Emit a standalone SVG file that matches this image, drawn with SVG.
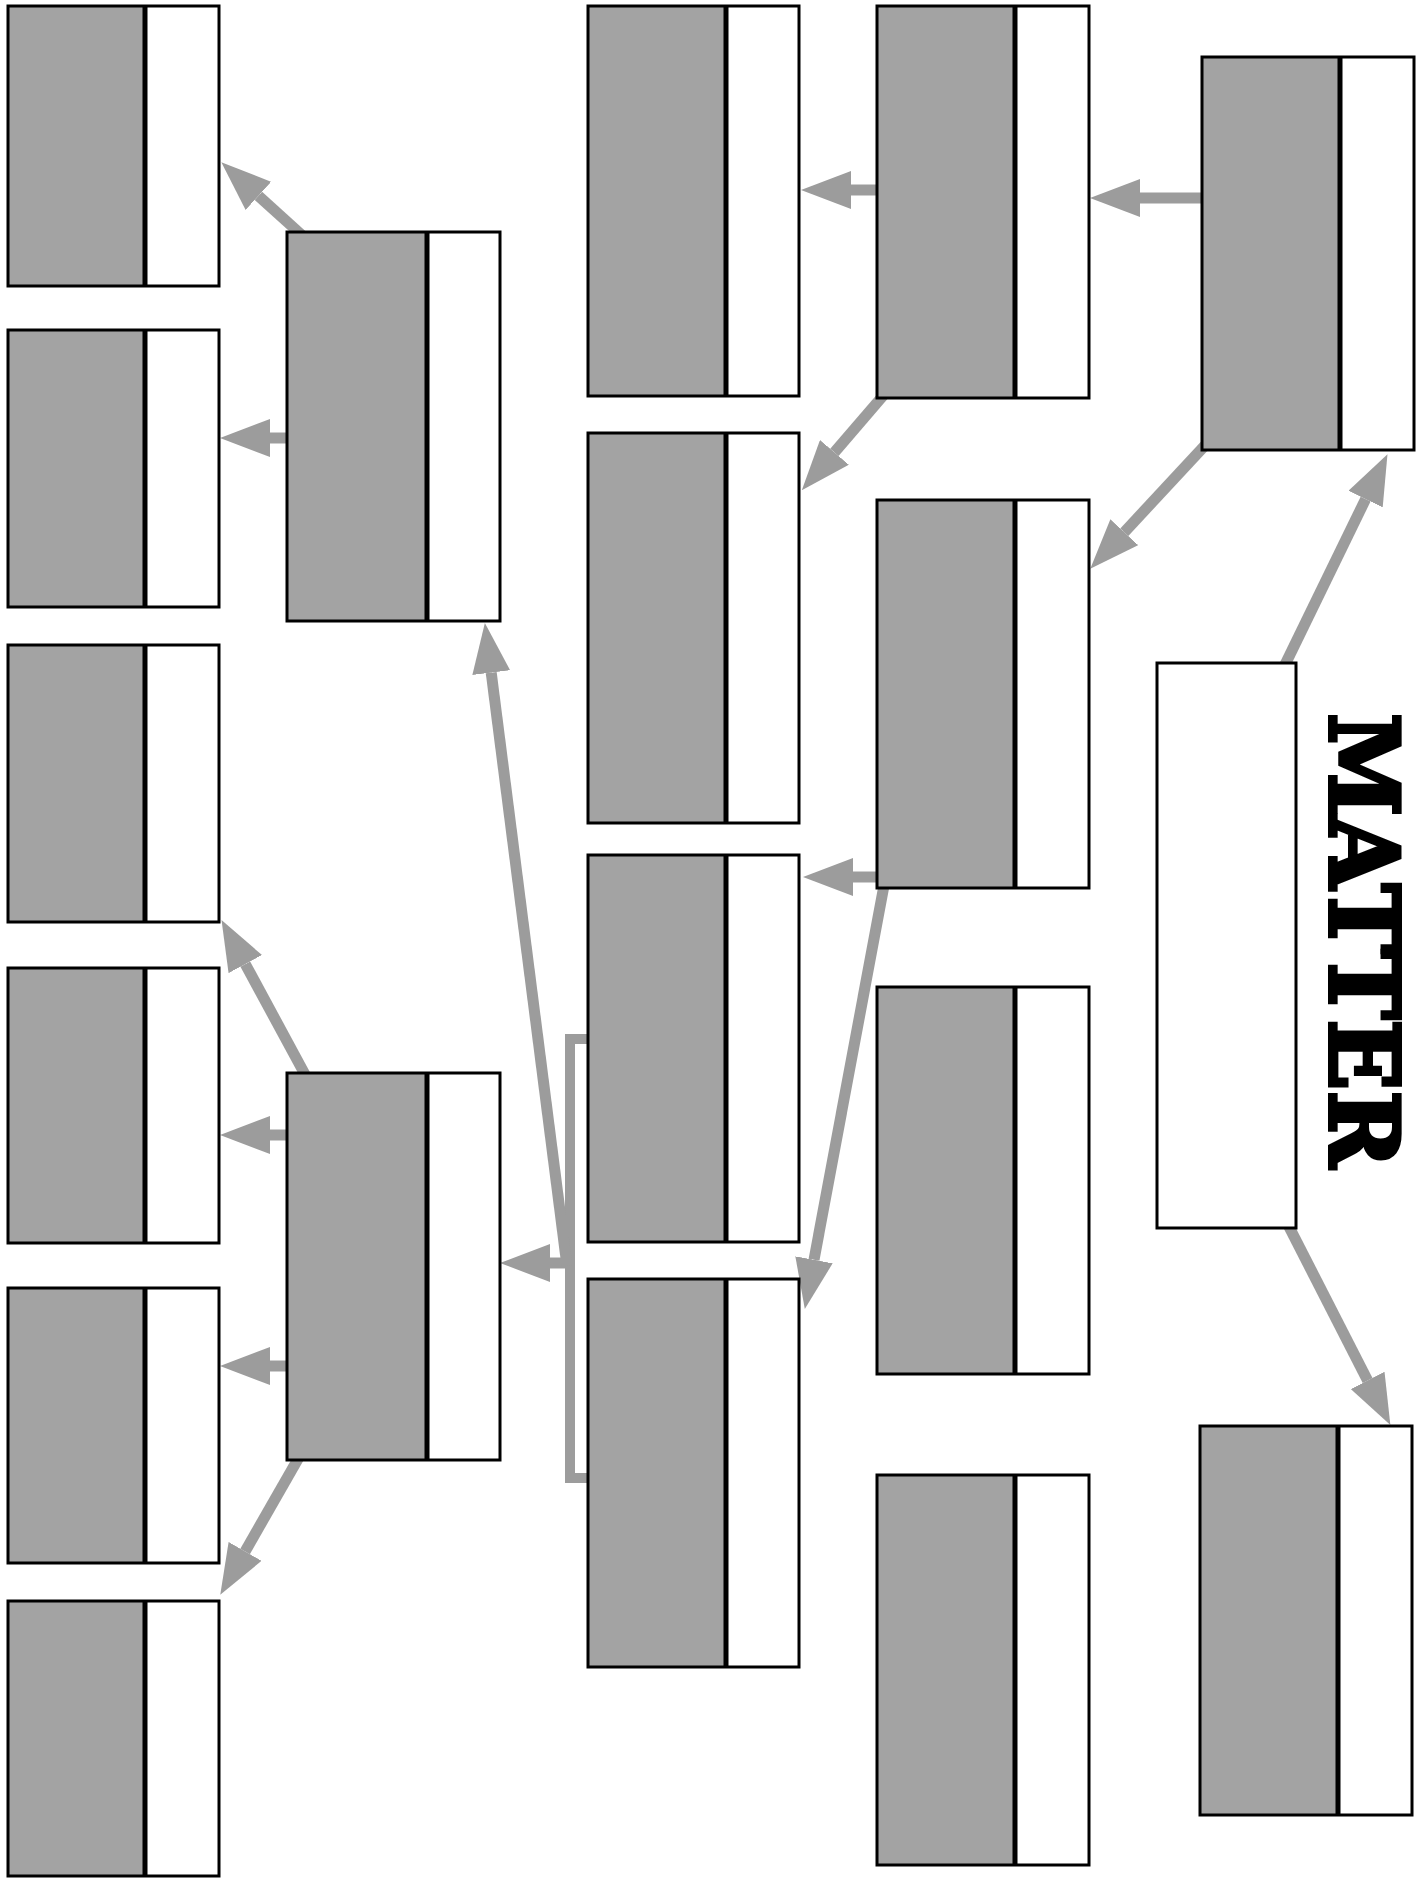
<svg xmlns="http://www.w3.org/2000/svg" width="1421" height="1881" viewBox="0 0 1421 1881">
<style>
.g{fill:#a3a3a3}
.w{fill:#ffffff}
.o{fill:none;stroke:#000;stroke-width:3}
.d{stroke:#000;stroke-width:5}
.c{fill:none;stroke:#9c9c9c;stroke-width:11;marker-end:url(#ah)}
.br{fill:none;stroke:#9c9c9c;stroke-width:10}
.title{font-family:"DejaVu Serif","Liberation Serif",serif;font-weight:bold;font-size:96px;fill:#000;stroke:#000;stroke-width:4;writing-mode:vertical-rl;text-orientation:sideways}
</style>
<defs>
<marker id="ah" markerUnits="userSpaceOnUse" markerWidth="50" markerHeight="38" viewBox="0 0 50 38" refX="0" refY="19" orient="auto">
<path d="M0,0 L50,19 L0,38 z" fill="#9c9c9c"/>
</marker>
</defs>
<rect width="1421" height="1881" fill="#fff"/>
<g id="connectors">
<line class="c" x1="1205" y1="198" x2="1140" y2="198"/>
<line class="c" x1="1210" y1="440" x2="1124.3" y2="532.2"/>
<line class="c" x1="1280" y1="675" x2="1365.6" y2="499.1"/>
<line class="c" x1="1283" y1="1215" x2="1367.6" y2="1380.4"/>
<line class="c" x1="880" y1="190" x2="851" y2="190"/>
<line class="c" x1="888" y1="390" x2="834.4" y2="452.4"/>
<line class="c" x1="880" y1="877" x2="853" y2="877"/>
<line class="c" x1="885" y1="880" x2="814" y2="1259.8"/>
<path class="br" d="M592 1039 H570 V1478 H592"/>
<line class="c" x1="570" y1="1263" x2="550" y2="1263"/>
<line class="c" x1="567" y1="1266" x2="491.2" y2="672.6"/>
<line class="c" x1="305" y1="238" x2="258.4" y2="195.8"/>
<line class="c" x1="290" y1="438" x2="270" y2="438"/>
<line class="c" x1="308" y1="1080" x2="245.3" y2="964.1"/>
<line class="c" x1="290" y1="1135" x2="270" y2="1135"/>
<line class="c" x1="290" y1="1366" x2="270" y2="1366"/>
<line class="c" x1="302" y1="1452" x2="245.1" y2="1551.4"/>
</g>
<g id="A1"><rect class="g" x="8" y="6" width="137" height="280"/><rect class="w" x="145" y="6" width="74" height="280"/><rect class="o" x="8" y="6" width="211" height="280"/><line class="d" x1="145" y1="6" x2="145" y2="286"/></g>
<g id="A2"><rect class="g" x="8" y="330" width="137" height="277"/><rect class="w" x="145" y="330" width="74" height="277"/><rect class="o" x="8" y="330" width="211" height="277"/><line class="d" x1="145" y1="330" x2="145" y2="607"/></g>
<g id="A3"><rect class="g" x="8" y="645" width="137" height="277"/><rect class="w" x="145" y="645" width="74" height="277"/><rect class="o" x="8" y="645" width="211" height="277"/><line class="d" x1="145" y1="645" x2="145" y2="922"/></g>
<g id="A4"><rect class="g" x="8" y="968" width="137" height="275"/><rect class="w" x="145" y="968" width="74" height="275"/><rect class="o" x="8" y="968" width="211" height="275"/><line class="d" x1="145" y1="968" x2="145" y2="1243"/></g>
<g id="A5"><rect class="g" x="8" y="1288" width="137" height="275"/><rect class="w" x="145" y="1288" width="74" height="275"/><rect class="o" x="8" y="1288" width="211" height="275"/><line class="d" x1="145" y1="1288" x2="145" y2="1563"/></g>
<g id="A6"><rect class="g" x="8" y="1601" width="137" height="275"/><rect class="w" x="145" y="1601" width="74" height="275"/><rect class="o" x="8" y="1601" width="211" height="275"/><line class="d" x1="145" y1="1601" x2="145" y2="1876"/></g>
<g id="B1"><rect class="g" x="287" y="232" width="140" height="389"/><rect class="w" x="427" y="232" width="73" height="389"/><rect class="o" x="287" y="232" width="213" height="389"/><line class="d" x1="427" y1="232" x2="427" y2="621"/></g>
<g id="B2"><rect class="g" x="287" y="1073" width="140" height="387"/><rect class="w" x="427" y="1073" width="73" height="387"/><rect class="o" x="287" y="1073" width="213" height="387"/><line class="d" x1="427" y1="1073" x2="427" y2="1460"/></g>
<g id="C1"><rect class="g" x="588" y="6" width="138" height="390"/><rect class="w" x="726" y="6" width="73" height="390"/><rect class="o" x="588" y="6" width="211" height="390"/><line class="d" x1="726" y1="6" x2="726" y2="396"/></g>
<g id="C2"><rect class="g" x="588" y="433" width="138" height="390"/><rect class="w" x="726" y="433" width="73" height="390"/><rect class="o" x="588" y="433" width="211" height="390"/><line class="d" x1="726" y1="433" x2="726" y2="823"/></g>
<g id="C3"><rect class="g" x="588" y="855" width="138" height="387"/><rect class="w" x="726" y="855" width="73" height="387"/><rect class="o" x="588" y="855" width="211" height="387"/><line class="d" x1="726" y1="855" x2="726" y2="1242"/></g>
<g id="C4"><rect class="g" x="588" y="1279" width="138" height="388"/><rect class="w" x="726" y="1279" width="73" height="388"/><rect class="o" x="588" y="1279" width="211" height="388"/><line class="d" x1="726" y1="1279" x2="726" y2="1667"/></g>
<g id="D1"><rect class="g" x="877" y="6" width="138" height="392"/><rect class="w" x="1015" y="6" width="74" height="392"/><rect class="o" x="877" y="6" width="212" height="392"/><line class="d" x1="1015" y1="6" x2="1015" y2="398"/></g>
<g id="D2"><rect class="g" x="877" y="500" width="138" height="388"/><rect class="w" x="1015" y="500" width="74" height="388"/><rect class="o" x="877" y="500" width="212" height="388"/><line class="d" x1="1015" y1="500" x2="1015" y2="888"/></g>
<g id="D3"><rect class="g" x="877" y="987" width="138" height="387"/><rect class="w" x="1015" y="987" width="74" height="387"/><rect class="o" x="877" y="987" width="212" height="387"/><line class="d" x1="1015" y1="987" x2="1015" y2="1374"/></g>
<g id="D4"><rect class="g" x="877" y="1475" width="138" height="390"/><rect class="w" x="1015" y="1475" width="74" height="390"/><rect class="o" x="877" y="1475" width="212" height="390"/><line class="d" x1="1015" y1="1475" x2="1015" y2="1865"/></g>
<g id="E1"><rect class="g" x="1202" y="57" width="138" height="393"/><rect class="w" x="1340" y="57" width="74" height="393"/><rect class="o" x="1202" y="57" width="212" height="393"/><line class="d" x1="1340" y1="57" x2="1340" y2="450"/></g>
<g id="E3"><rect class="g" x="1200" y="1426" width="138" height="389"/><rect class="w" x="1338" y="1426" width="74" height="389"/><rect class="o" x="1200" y="1426" width="212" height="389"/><line class="d" x1="1338" y1="1426" x2="1338" y2="1815"/></g>
<g id="matter"><rect class="w" x="1157" y="663" width="139" height="565"/><rect class="o" x="1157" y="663" width="139" height="565"/></g>
<g id="title"><text class="title" x="1330" y="713" textLength="455" lengthAdjust="spacingAndGlyphs">MATTER</text></g>
</svg>
